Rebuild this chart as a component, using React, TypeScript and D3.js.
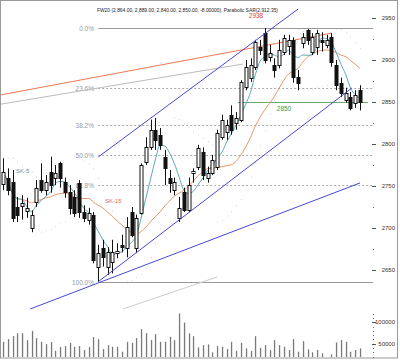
import React from 'react';
import * as d3 from 'd3';

const opens = [2752, 2760, 2755, 2725, 2726, 2720, 2700, 2731, 2757, 2745, 2767, 2760, 2777, 2755, 2743, 2737, 2754, 2719, 2710, 2716,
  2654, 2676, 2654, 2660, 2670, 2680, 2676, 2719, 2676, 2718, 2779, 2796, 2817, 2811, 2785, 2760, 2745, 2712, 2743, 2721,
  2766, 2773, 2790, 2760, 2766, 2773, 2808, 2814, 2835, 2825, 2829, 2868, 2879, 2892, 2916, 2932, 2904, 2894, 2894, 2910,
  2917, 2924, 2880, 2920, 2936, 2910, 2915, 2924, 2918, 2927, 2894, 2873, 2852, 2856, 2849, 2864];
const highs = [2783, 2771, 2769, 2737, 2739, 2736, 2721, 2757, 2777, 2763, 2785, 2775, 2779, 2760, 2751, 2745, 2757, 2727, 2724, 2719,
  2680, 2686, 2677, 2686, 2682, 2692, 2713, 2725, 2716, 2777, 2808, 2829, 2831, 2819, 2793, 2769, 2760, 2737, 2748, 2760,
  2771, 2799, 2796, 2773, 2787, 2817, 2835, 2829, 2846, 2838, 2876, 2900, 2902, 2924, 2924, 2938, 2918, 2902, 2924, 2930,
  2930, 2927, 2888, 2932, 2937, 2932, 2936, 2933, 2930, 2932, 2900, 2879, 2867, 2862, 2864, 2870];
const lows = [2745, 2739, 2707, 2707, 2710, 2712, 2695, 2725, 2742, 2739, 2742, 2751, 2748, 2736, 2716, 2713, 2712, 2707, 2704, 2658,
  2636, 2654, 2644, 2646, 2664, 2671, 2665, 2689, 2670, 2716, 2775, 2793, 2793, 2793, 2751, 2742, 2739, 2707, 2719, 2719,
  2754, 2769, 2757, 2754, 2763, 2769, 2805, 2805, 2811, 2817, 2826, 2864, 2874, 2888, 2906, 2896, 2898, 2879, 2890, 2906,
  2906, 2873, 2864, 2914, 2918, 2906, 2906, 2910, 2914, 2892, 2864, 2856, 2849, 2840, 2843, 2840];
const closes = [2767, 2745, 2712, 2716, 2730, 2724, 2716, 2748, 2745, 2755, 2751, 2766, 2760, 2743, 2724, 2718, 2719, 2712, 2718, 2662,
  2670, 2666, 2671, 2671, 2673, 2677, 2701, 2692, 2712, 2775, 2796, 2817, 2805, 2799, 2771, 2754, 2755, 2724, 2721, 2751,
  2768, 2795, 2763, 2766, 2781, 2813, 2829, 2823, 2817, 2831, 2874, 2892, 2894, 2921, 2912, 2900, 2908, 2888, 2912, 2926,
  2924, 2880, 2873, 2927, 2924, 2927, 2932, 2921, 2924, 2898, 2870, 2861, 2861, 2843, 2858, 2850];
const volumes = [54600, 60800, 67700, 74600, 74600, 58500, 79900, 63100, 54600, 49300, 53900, 33900, 42400, 44700, 52300, 43100, 44700, 35500, 42400, 65400,
  60800, 37800, 47000, 43100, 43100, 31600, 54600, 52300, 63100, 83900, 74600, 58500, 72300, 54600, 54600, 66100, 58500, 120000, 99300, 74000,
  67700, 41700, 47000, 48600, 30200, 44700, 43100, 37800, 54600, 33900, 52300, 39400, 33200, 67700, 40800, 47000, 35500, 58500, 47000, 43100,
  35500, 60800, 31600, 56200, 37100, 30200, 35500, 27900, 19000, 25600, 53200, 58500, 54600, 31600, 35500, 39400];

// trend lines, [candle index, price]
const channelUpper = [[20, 2784.5], [62, 2960.7]];
const channelLower = [[20, 2636], [73.3, 2866.7]];
const fanLine = [[5.7, 2603.6], [75, 2753.6]];
const orangeLine = [[-0.6, 2858.3], [69.1, 2932.1]];
const grayLine = [[-0.6, 2847.3], [50.4, 2895.2]];
const grayShort = [[25.2, 2603.6], [45, 2641.7]];

const fibHigh = 2938;
const fibLow = 2636;
const fibLevels = [0, 23.6, 38.2, 50, 61.8, 100];
const supportLevel = 2850;

const title = 'FW20 (2,864.00, 2,889.00, 2,840.00, 2,850.00, -8.00000), Parabolic SAR(2,912.35)';
const font = '"Liberation Sans", Arial, sans-serif';

function sma(vals: number[], n: number) {
  return vals.map((_, i) => d3.mean(vals.slice(Math.max(0, i - n + 1), i + 1)) as number);
}

function psar(h: number[], l: number[]) {
  const out: number[] = [];
  let up = false;
  let af = 0.02;
  let ep = l[0];
  let sar = h[0];
  out.push(sar);
  for (let i = 1; i < h.length; i++) {
    sar = sar + af * (ep - sar);
    if (up) {
      sar = Math.min(sar, l[i - 1], i > 1 ? l[i - 2] : l[i - 1]);
      if (l[i] < sar) { up = false; sar = ep; ep = l[i]; af = 0.02; }
      else if (h[i] > ep) { ep = h[i]; af = Math.min(0.2, af + 0.02); }
    } else {
      sar = Math.max(sar, h[i - 1], i > 1 ? h[i - 2] : h[i - 1]);
      if (h[i] > sar) { up = true; sar = ep; ep = h[i]; af = 0.02; }
      else if (l[i] < ep) { ep = l[i]; af = Math.min(0.2, af + 0.02); }
    }
    out.push(sar);
  }
  return out;
}

export default function App() {
  const x = d3.scaleLinear().domain([0, opens.length - 1]).range([3, 360]);
  const y = d3.scaleLinear().domain([2650, 2950]).range([270, 18]);
  const yv = d3.scaleLinear().domain([0, 100000]).range([365.4, 322.2]);
  const px = (i: number) => Math.round(x(i)) + 0.5;

  const idx = d3.range(opens.length);
  const ma5 = sma(closes, 5);
  const ma15 = sma(closes, 15);
  const sar = psar(highs, lows);
  const maPath = (vals: number[]) =>
    d3.line<number>().x((i) => x(i)).y((i) => y(vals[i])).curve(d3.curveMonotoneX)(idx) || '';
  const seg = (pts: number[][]) =>
    d3.line<number[]>().x((d) => x(d[0])).y((d) => y(d[1]))(pts) || '';

  const iLow = lows.indexOf(fibLow);
  const fibX0 = x(iLow);
  const rightX = 373;

  const majorTicks = y.ticks(6);
  const minorTicks = majorTicks.slice(0, -1).map((t) => t + 25);
  const volMinor = d3.range(20000, 130000, 10000);

  return (
    <svg width={400} height={360} style={{ position: 'absolute', left: 0, top: 0, background: '#fff' }}>
      <defs>
        <clipPath id="plot">
          <rect x={1} y={1} width={372} height={356} />
        </clipPath>
      </defs>
      <rect x={0.5} y={0.5} width={397} height={357.5} fill="#fff" stroke="#999" />

      <g clipPath="url(#plot)">
        {/* volume */}
        {idx.map((i) => (
          <rect key={'v' + i} x={px(i) - 0.6} y={yv(volumes[i])} width={1.3}
            height={Math.max(0, 357.5 - yv(volumes[i]))} fill="#7a7a7a" />
        ))}

        {/* parabolic sar */}
        {idx.map((i) => (
          <rect key={'s' + i} x={px(i) - 0.5} y={y(sar[i]) - 0.5} width={1} height={1} fill="#d4d4d4" />
        ))}

        {/* fibonacci */}
        {fibLevels.map((lv) => {
          const p = fibHigh - (lv / 100) * (fibHigh - fibLow);
          const yy = Math.round(y(p)) + 0.5;
          const solid = lv === 0 || lv === 100;
          return (
            <g key={'f' + lv}>
              <line x1={fibX0} x2={rightX} y1={yy} y2={yy} stroke={solid ? '#999' : '#aaa'}
                strokeDasharray={solid ? undefined : '2,2'} />
              <text x={94} y={yy + 2.2} fontSize={6.5} fill="#999" textAnchor="end" fontFamily={font}>
                {lv.toFixed(1) + '%'}
              </text>
            </g>
          );
        })}

        <path d={seg(grayLine)} stroke="#bbb" fill="none" />
        <path d={seg(grayShort)} stroke="#ccc" fill="none" />
        <path d={seg(orangeLine)} stroke="#f07850" fill="none" />

        {/* support */}
        <line x1={238} x2={368} y1={Math.round(y(supportLevel)) + 0.5} y2={Math.round(y(supportLevel)) + 0.5}
          stroke="#6aaa6a" strokeWidth={1.2} />
        <text x={284} y={y(supportLevel) + 9} fontSize={6.5} fill="#3d9a3d" textAnchor="middle" fontFamily={font}>
          {supportLevel}
        </text>

        <path d={maPath(ma15)} stroke="#e9956c" fill="none" />
        <path d={maPath(ma5)} stroke="#5aaab2" fill="none" />

        {/* candles */}
        {idx.map((i) => {
          const o = opens[i], c = closes[i];
          const black = c < o;
          const top = Math.round(y(Math.max(o, c))) + 0.5;
          const bot = Math.round(y(Math.min(o, c))) + 0.5;
          const cx = px(i);
          return (
            <g key={'c' + i}>
              <line x1={cx} x2={cx} y1={y(highs[i])} y2={y(lows[i])} stroke="#111" />
              <rect x={cx - 1.5} y={top} width={3} height={Math.max(1, bot - top)}
                fill={black ? '#111' : '#fff'} stroke="#111" strokeWidth={1} />
            </g>
          );
        })}

        <path d={seg(channelUpper)} stroke="#4848d8" fill="none" />
        <path d={seg(channelLower)} stroke="#4848d8" fill="none" />
        <path d={seg(fanLine)} stroke="#4848d8" fill="none" />

        <text x={16} y={173} fontSize={6} fill="#4aa0b0" fontFamily={font}>SK-5</text>
        <text x={105} y={203} fontSize={6} fill="#e07050" fontFamily={font}>SK-15</text>
        <text x={256} y={18} fontSize={6.5} fill="#e04040" textAnchor="middle" fontFamily={font}>{fibHigh}</text>
      </g>

      {/* right axis */}
      {majorTicks.map((t) => (
        <g key={'t' + t}>
          <line x1={372} x2={376} y1={Math.round(y(t)) + 0.5} y2={Math.round(y(t)) + 0.5} stroke="#555" />
          <text x={395} y={y(t) + 2.2} fontSize={6} textAnchor="end" fill="#333" fontFamily={font}>{t}</text>
        </g>
      ))}
      {minorTicks.map((t) => (
        <rect key={'m' + t} x={373} y={Math.round(y(t))} width={1} height={1} fill="#666" />
      ))}
      {volMinor.map((v) => (
        <rect key={'vm' + v} x={373} y={Math.round(yv(v))} width={1} height={1} fill="#666" />
      ))}
      {[50000, 100000].map((v) => (
        <g key={'vt' + v}>
          <line x1={372} x2={376} y1={Math.round(yv(v)) + 0.5} y2={Math.round(yv(v)) + 0.5} stroke="#555" />
          <text x={395} y={yv(v) + 2.2} fontSize={6} textAnchor="end" fill="#333" fontFamily={font}>{v}</text>
        </g>
      ))}

      <text x={97} y={12} fontSize={6} fill="#222" fontFamily={font} textLength={181} lengthAdjust="spacingAndGlyphs">
        {title}
      </text>
    </svg>
  );
}
